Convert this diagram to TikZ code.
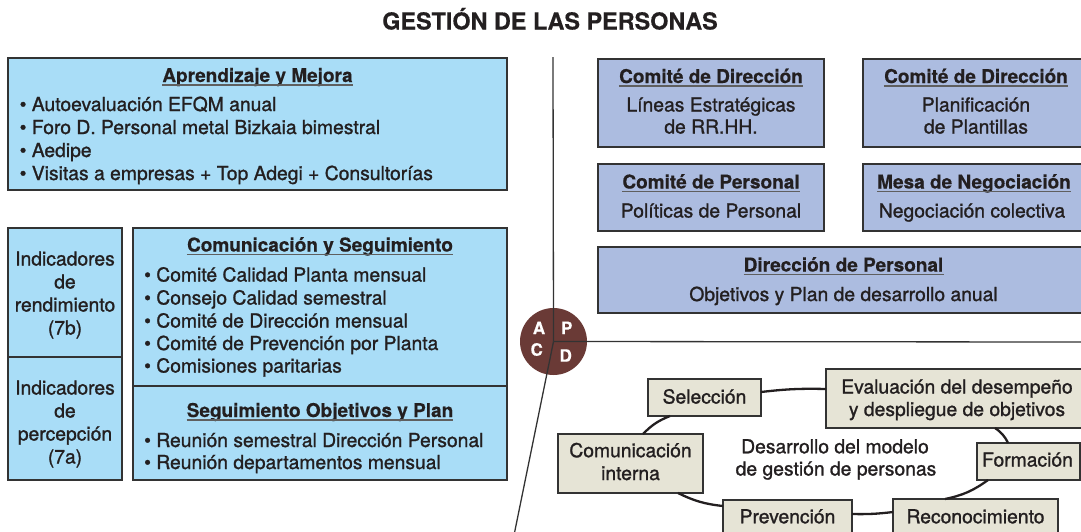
\documentclass[tikz,border=0pt]{standalone}
\usepackage{fontspec}
\setmainfont{TeX Gyre Heros}[UprightFeatures={FakeBold=1.2},BoldFeatures={FakeBold=0.4}]
\usetikzlibrary{calc}
\definecolor{lblue}{RGB}{169,221,247}
\definecolor{lav}{RGB}{172,188,224}
\definecolor{beige}{RGB}{230,228,214}
\definecolor{brn}{RGB}{106,58,54}
\definecolor{edgec}{RGB}{51,51,51}
\definecolor{txt}{RGB}{35,31,32}
\definecolor{ulc}{RGB}{95,95,95}
\newcommand{\rbox}[6]{\node[#1, anchor=north west, minimum width={#5-#3}, minimum height={#6-#4}] (#2) at (#3,#4) {};}
\newcommand{\hdrline}[4]{\node[hdr] (#1) at (#2,#3) {#4};
  \draw[ulin] ([yshift=-3pt]#1.base west) -- ([yshift=-3pt]#1.base east);}
\begin{document}
\begin{tikzpicture}[x=1pt,y=-1pt,
  boxbase/.style={draw=edgec, line width=1.2pt, inner sep=0pt, outer sep=0pt},
  bluebox/.style={boxbase, fill=lblue},
  lavbox/.style={boxbase, fill=lav},
  beigebox/.style={boxbase, fill=beige},
  ln/.style={inner sep=0pt, text=txt, font=\fontsize{19.3}{22}\selectfont},
  lnc/.style={ln, anchor=base},
  lnb/.style={ln, anchor=base west},
  hdr/.style={ln, font=\fontsize{19}{22}\selectfont\bfseries, anchor=base},
  ulin/.style={draw=ulc, line width=1.1pt},
  axis/.style={draw=edgec, line width=1.3pt},
  conn/.style={draw=txt, line width=2.3pt},
  letter/.style={inner sep=0pt, text=white, font=\fontsize{17}{18}\selectfont\bfseries, anchor=base}
]
\useasboundingbox (0,0) rectangle (1081,531);
\clip (0,0) rectangle (1081,531);

% title
\node[inner sep=0pt, text=txt, font=\fontsize{23.4}{27}\selectfont\bfseries, anchor=base] (title) at (550,29.5) {GESTIÓN DE LAS PERSONAS};

% ---- left side ----
\rbox{bluebox}{ap}{8}{58}{507}{190}
\hdrline{aph}{257.5}{82}{Aprendizaje y Mejora}
\node[lnb] (ap1) at (19.5,111) {\textbullet\ Autoevaluación EFQM anual};
\node[lnb] (ap2) at (19.5,134) {\textbullet\ Foro D. Personal metal Bizkaia bimestral};
\node[lnb] (ap3) at (19.5,157) {\textbullet\ Aedipe};
\node[lnb] (ap4) at (19.5,180) {\textbullet\ Visitas a empresas + Top Adegi + Consultorías};

\rbox{bluebox}{ind1}{8}{228}{122}{357}
\rbox{bluebox}{ind2}{8}{357}{122}{480}
\node[lnc] (i11) at (65,265.5) {Indicadores};
\node[lnc] (i12) at (65,288.5) {de};
\node[lnc] (i13) at (65,311.5) {rendimiento};
\node[lnc] (i14) at (65,334.5) {(7b)};
\node[lnc] (i21) at (65,394.5) {Indicadores};
\node[lnc] (i22) at (65,417.5) {de};
\node[lnc] (i23) at (65,440.5) {percepción};
\node[lnc] (i24) at (65,463.5) {(7a)};

\rbox{bluebox}{cs}{133}{228}{507}{386}
\hdrline{csh}{320}{251.5}{Comunicación y Seguimiento}
\node[lnb] (cs1) at (144,281.5) {\textbullet\ Comité Calidad Planta mensual};
\node[lnb] (cs2) at (144,304.5) {\textbullet\ Consejo Calidad semestral};
\node[lnb] (cs3) at (144,327.5) {\textbullet\ Comité de Dirección mensual};
\node[lnb] (cs4) at (144,350) {\textbullet\ Comité de Prevención por Planta};
\node[lnb] (cs5) at (144,372.5) {\textbullet\ Comisiones paritarias};

\rbox{bluebox}{so}{133}{386}{507}{480}
\hdrline{soh}{320}{417}{Seguimiento Objetivos y Plan}
\node[lnb] (so1) at (144,447) {\textbullet\ Reunión semestral Dirección Personal};
\node[lnb] (so2) at (144,469) {\textbullet\ Reunión departamentos mensual};

% ---- right top ----
\rbox{lavbox}{cd1}{598}{59}{824}{147}
\hdrline{cd1h}{711}{83}{Comité de Dirección}
\node[lnc] (cd1a) at (711,111.5) {Líneas Estratégicas};
\node[lnc] (cd1b) at (711,133.5) {de RR.HH.};

\rbox{lavbox}{cd2}{863}{59}{1089}{147}
\hdrline{cd2h}{976}{83}{Comité de Dirección}
\node[lnc] (cd2a) at (976,111.5) {Planificación};
\node[lnc] (cd2b) at (976,133.5) {de Plantillas};

\rbox{lavbox}{cp}{598}{164}{824}{231}
\hdrline{cph}{711}{188.5}{Comité de Personal}
\node[lnc] (cpa) at (711,217.5) {Políticas de Personal};

\rbox{lavbox}{mn}{863}{164}{1089}{231}
\hdrline{mnh}{974}{188.5}{Mesa de Negociación}
\node[lnc] (mna) at (972,217.5) {Negociación colectiva};

\rbox{lavbox}{dp}{598}{247}{1089}{313}
\hdrline{dph}{843.5}{271.5}{Dirección de Personal}
\node[lnc] (dpa) at (843.5,301) {Objetivos y Plan de desarrollo anual};

% ---- PDCA axes ----
\node[circle, fill=brn, minimum size=67pt, inner sep=0pt] (pdca) at (553.5,341.5) {};
\coordinate (vtop) at (553,57);
\coordinate (hright) at (1085,342);
\coordinate (dbot) at (512,545);
\draw[axis] (pdca.center) -- (vtop);
\draw[axis] (pdca.center) -- (hright);
\draw[axis] (pdca.center) -- (dbot);
\node[letter] (la) at (539,334) {A};
\node[letter] (lp) at (566.7,334) {P};
\node[letter] (lc) at (536.7,355.7) {C};
\node[letter] (ld) at (565.7,361.7) {D};

% ---- cycle ----
\rbox{beigebox}{sel}{648}{379}{761}{416}
\node[lnc] (selt) at (704.5,403.5) {Selección};
\rbox{beigebox}{eva}{826}{369}{1088}{428}
\node[lnc] (evat) at (957,393.5) {Evaluación del desempeño};
\node[lnc] (evau) at (957,416) {y despliegue de objetivos};
\rbox{beigebox}{for}{977}{443}{1080}{480}
\node[lnc] (fort) at (1027.5,466.5) {Formación};
\rbox{beigebox}{rec}{893}{499}{1058}{537}
\node[lnc] (rect) at (975.5,523.3) {Reconocimiento};
\rbox{beigebox}{prev}{723}{500}{852}{537}
\node[lnc] (prevt) at (787.5,523.3) {Prevención};
\rbox{beigebox}{com}{558}{434}{703}{493}
\node[lnc] (comt) at (630.5,457.2) {Comunicación};
\node[lnc] (comu) at (630.5,480) {interna};
\node[lnc] (dm1) at (835,453.3) {Desarrollo del modelo};
\node[lnc] (dm2) at (836,475.5) {de gestión de personas};

\draw[conn] ($(sel.east)+(0,-5.5)$) to[bend left=4] ($(eva.west)+(0,-9.5)$);
\draw[conn] ($(eva.south west)+(169,0)$) to[bend left=15] ($(for.north west)+(31,0)$);
\draw[conn] ($(for.south west)+(11,0)$) to[bend left=12] ($(rec.north west)+(52,0)$);
\draw[conn] ($(rec.west)+(0,-6)$) to[bend left=4] ($(prev.east)+(0,-4.5)$);
\draw[conn] ($(prev.north west)+(0,6)$) to[bend left=10] ($(com.south west)+(120,0)$);
\draw[conn] ($(com.north west)+(85,0)$) to[bend left=12] ($(sel.south west)+(22,0)$);
\end{tikzpicture}
\end{document}
